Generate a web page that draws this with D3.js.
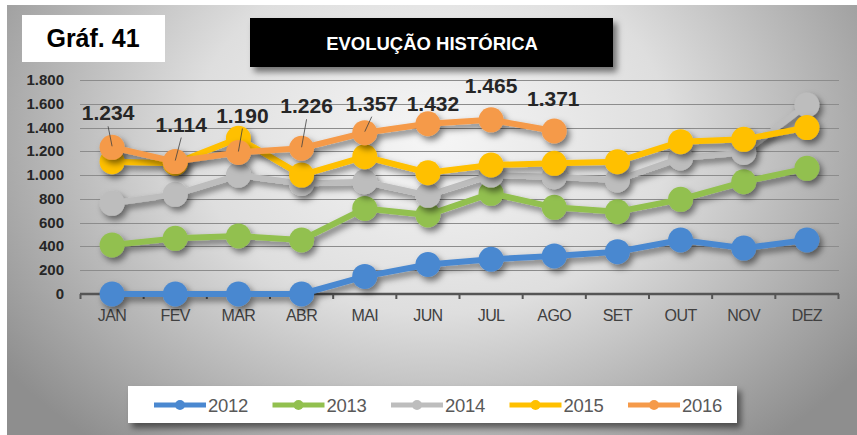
<!DOCTYPE html>
<html>
<head>
<meta charset="utf-8">
<script src="https://cdn.jsdelivr.net/npm/d3@7"></script>
<style>
  body { margin: 0; background: #fff; }
  svg { display: block; font-family: "Liberation Sans", Arial, sans-serif; }
</style>
</head>
<body>
<div id="chart"></div>
<script>
const width = 857;
const height = 435;

// Data
const months = ["JAN", "FEV", "MAR", "ABR", "MAI", "JUN", "JUL", "AGO", "SET", "OUT", "NOV", "DEZ"];
const years = ["2012", "2013", "2014", "2015", "2016"];
const values2012 = [0, 0, 0, 0, 148, 248, 292, 320, 356, 454, 386, 454];
const values2013 = [412, 468, 488, 454, 720, 665, 847, 729, 692, 796, 944, 1057];
const values2014 = [763, 838, 1000, 930, 944, 830, 1000, 987, 959, 1144, 1190, 1590];
const values2015 = [1113, 1100, 1310, 1000, 1155, 1020, 1085, 1099, 1113, 1281, 1301, 1400];
const values2016 = [1234, 1114, 1190, 1226, 1357, 1432, 1465, 1371];
const yTicks = [0, 200, 400, 600, 800, 1000, 1200, 1400, 1600, 1800];

const seriesValues = [values2012, values2013, values2014, values2015, values2016];
const seriesColors = ["#4a88d0", "#92c04f", "#bdbdbd", "#ffc000", "#f59a4a"];

// where the 2016 value labels sit, relative to their points
const labelOffsets = [[-4, -27], [6, -30], [4, -30], [5, -35], [7, -22], [5, -13], [0, -27], [-1, -25]];
const labelLeader = [true, true, true, true, true, false, false, false];

const ptBR = d3.formatLocale({ decimal: ",", thousands: ".", grouping: [3], currency: ["R$", ""] });
const fmt = ptBR.format(",d");

const svg = d3.select("#chart").append("svg")
    .attr("width", width)
    .attr("height", height);

const defs = svg.append("defs");

const bg = defs.append("radialGradient")
    .attr("id", "bg")
    .attr("cx", "0.5").attr("cy", "0.3")
    .attr("r", "0.62")
    .attr("gradientTransform", "translate(0.5,0.3) scale(1,1.5) translate(-0.5,-0.3)");
bg.append("stop").attr("offset", "0%").attr("stop-color", "#f6f6f6");
bg.append("stop").attr("offset", "45%").attr("stop-color", "#dedede");
bg.append("stop").attr("offset", "100%").attr("stop-color", "#8e8e8e");

const shadow = defs.append("filter")
    .attr("id", "shadow")
    .attr("x", "-20%").attr("y", "-20%")
    .attr("width", "140%").attr("height", "160%");
shadow.append("feDropShadow")
    .attr("dx", 3).attr("dy", 4)
    .attr("stdDeviation", 3)
    .attr("flood-color", "#000")
    .attr("flood-opacity", 0.5);

const boxShadow = defs.append("filter")
    .attr("id", "boxShadow")
    .attr("x", "-10%").attr("y", "-20%")
    .attr("width", "130%").attr("height", "160%");
boxShadow.append("feDropShadow")
    .attr("dx", 4).attr("dy", 5)
    .attr("stdDeviation", 3)
    .attr("flood-color", "#000")
    .attr("flood-opacity", 0.5);

// background panel
svg.append("rect")
    .attr("x", 7).attr("y", 5)
    .attr("width", width - 7).attr("height", height - 5)
    .attr("fill", "url(#bg)");

// scales
const x = d3.scaleBand()
    .domain(months)
    .range([80.5, 838.5]);

const y = d3.scaleLinear()
    .domain([0, 1800])
    .range([294, 80]);

const cx = m => x(m) + x.bandwidth() / 2;

// gridlines
svg.append("g")
    .selectAll("line")
    .data(yTicks.filter(d => d > 0))
    .join("line")
    .attr("x1", 80).attr("x2", 839)
    .attr("y1", d => Math.round(y(d)) + 0.5)
    .attr("y2", d => Math.round(y(d)) + 0.5)
    .attr("stroke", "#8c8c8c")
    .attr("stroke-width", 1.2);

// x axis
const xAxis = svg.append("g")
    .attr("transform", `translate(0,${y(0)})`);

xAxis.append("line")
    .attr("x1", 80).attr("x2", 839)
    .attr("stroke", "#555")
    .attr("stroke-width", 2.5);

xAxis.selectAll(".tick-mark")
    .data(d3.range(months.length + 1))
    .join("line")
    .attr("class", "tick-mark")
    .attr("x1", i => 80.5 + i * x.step())
    .attr("x2", i => 80.5 + i * x.step())
    .attr("y1", 0).attr("y2", 5)
    .attr("stroke", "#555")
    .attr("stroke-width", 2);

xAxis.selectAll(".month")
    .data(months)
    .join("text")
    .attr("class", "month")
    .attr("x", d => cx(d))
    .attr("y", 27)
    .attr("text-anchor", "middle")
    .attr("fill", "#404040")
    .style("font-size", "16px")
    .style("letter-spacing", "-0.6px")
    .text(d => d);

// y axis labels
svg.append("g")
    .selectAll("text")
    .data(yTicks)
    .join("text")
    .attr("x", 64)
    .attr("y", d => y(d) + 5)
    .attr("text-anchor", "end")
    .attr("fill", "#262626")
    .style("font-size", "15px")
    .style("font-weight", "bold")
    .text(d => fmt(d));

// series
const line = d3.line()
    .x((d, i) => cx(months[i]))
    .y(d => y(d));

seriesValues.forEach((vals, s) => {
    const g = svg.append("g")
        .attr("filter", "url(#shadow)");

    g.append("path")
        .datum(vals)
        .attr("d", line)
        .attr("fill", "none")
        .attr("stroke", seriesColors[s])
        .attr("stroke-width", 6)
        .attr("stroke-linejoin", "round");

    g.selectAll("circle")
        .data(vals)
        .join("circle")
        .attr("cx", (d, i) => cx(months[i]))
        .attr("cy", d => y(d))
        .attr("r", 12.5)
        .attr("fill", seriesColors[s]);
});

// 2016 data labels
const labels = svg.append("g");

labels.selectAll("line")
    .data(values2016.map((v, i) => ({ v, i })).filter(d => labelLeader[d.i]))
    .join("line")
    .attr("x1", d => cx(months[d.i]) + labelOffsets[d.i][0])
    .attr("y1", d => y(d.v) + labelOffsets[d.i][1] + 6)
    .attr("x2", d => cx(months[d.i]))
    .attr("y2", d => y(d.v) - 1)
    .attr("stroke", "#404040")
    .attr("stroke-width", 0.8);

labels.selectAll("text")
    .data(values2016)
    .join("text")
    .attr("x", (d, i) => cx(months[i]) + labelOffsets[i][0])
    .attr("y", (d, i) => y(d) + labelOffsets[i][1])
    .attr("text-anchor", "middle")
    .attr("fill", "#262626")
    .style("font-size", "21px")
    .style("font-weight", "bold")
    .text(d => fmt(d));

// "Gráf. 41" box
svg.append("rect")
    .attr("x", 22).attr("y", 15)
    .attr("width", 143).attr("height", 47)
    .attr("fill", "#fff");
svg.append("text")
    .attr("x", 93).attr("y", 47)
    .attr("text-anchor", "middle")
    .attr("fill", "#000")
    .style("font-size", "25px")
    .style("font-weight", "bold")
    .text("Gráf. 41");

// title box
svg.append("rect")
    .attr("x", 250).attr("y", 18)
    .attr("width", 363).attr("height", 49)
    .attr("fill", "#000")
    .attr("filter", "url(#boxShadow)");
svg.append("text")
    .attr("x", 432).attr("y", 50)
    .attr("text-anchor", "middle")
    .attr("fill", "#fff")
    .style("font-size", "18.5px")
    .style("font-weight", "bold")
    .text("EVOLUÇÃO HISTÓRICA");

// legend
const legend = svg.append("g");
legend.append("rect")
    .attr("x", 128).attr("y", 386)
    .attr("width", 609).attr("height", 37)
    .attr("fill", "#fff")
    .attr("filter", "url(#boxShadow)");

const item = legend.selectAll(".item")
    .data(years)
    .join("g")
    .attr("class", "item")
    .attr("transform", (d, i) => `translate(${154 + i * 118.5},405)`);

item.append("line")
    .attr("x1", 0).attr("x2", 52)
    .attr("stroke", (d, i) => seriesColors[i])
    .attr("stroke-width", 5);
item.append("circle")
    .attr("cx", 26)
    .attr("r", 5)
    .attr("fill", (d, i) => seriesColors[i]);
item.append("text")
    .attr("x", 54)
    .attr("y", 6.5)
    .attr("fill", "#595959")
    .style("font-size", "18.5px")
    .style("letter-spacing", "-0.3px")
    .text(d => d);
</script>
</body>
</html>
